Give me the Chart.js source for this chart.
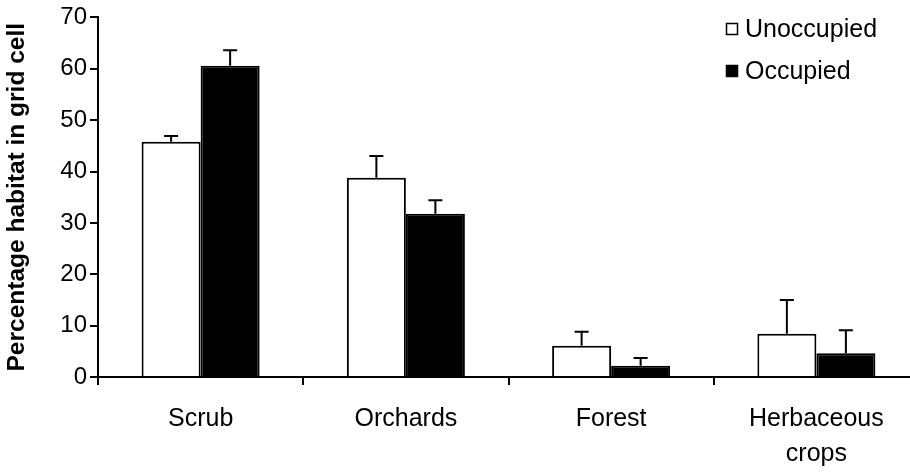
<!DOCTYPE html>
<html>
<head>
<meta charset="utf-8">
<script src="https://cdn.jsdelivr.net/npm/chart.js@4"></script>
<style>
  html, body { margin: 0; padding: 0; background: #fff; overflow: hidden; }
  #wrap { width: 925px; height: 473px; }
</style>
</head>
<body>
<div id="wrap"><canvas id="c" width="925" height="473"></canvas></div>
<script>
const categories = ['Scrub', 'Orchards', 'Forest', ['Herbaceous', 'crops']];
const seriesNames = ['Unoccupied', 'Occupied'];
const unoccupied = [45.8, 38.8, 6.1, 8.4];
const unoccupiedErr = [1.1, 4.2, 2.7, 6.6];
const occupied = [60.6, 31.8, 2.2, 4.6];
const occupiedErr = [3.0, 2.6, 1.5, 4.5];
const yTicks = [0, 10, 20, 30, 40, 50, 60, 70];
const yTitle = 'Percentage habitat in grid cell';

const FONT = "'Liberation Sans', Arial, sans-serif";
const errs = [unoccupiedErr, occupiedErr];

const errorBars = {
  id: 'errorBars',
  afterDatasetsDraw(chart) {
    const ctx = chart.ctx;
    const y = chart.scales.y;
    ctx.save();
    ctx.strokeStyle = '#000';
    ctx.lineWidth = 2;
    chart.data.datasets.forEach((ds, di) => {
      const meta = chart.getDatasetMeta(di);
      meta.data.forEach((bar, i) => {
        const top = y.getPixelForValue(ds.data[i]);
        const yE = y.getPixelForValue(ds.data[i] + errs[di][i]);
        ctx.beginPath();
        ctx.moveTo(bar.x, top);
        ctx.lineTo(bar.x, yE);
        ctx.moveTo(bar.x - 7, yE);
        ctx.lineTo(bar.x + 7, yE);
        ctx.stroke();
      });
    });
    ctx.restore();
  }
};

const customLegend = {
  id: 'customLegend',
  afterDraw(chart) {
    const ctx = chart.ctx;
    ctx.save();
    ctx.font = '25px ' + FONT;
    ctx.textBaseline = 'middle';
    ctx.textAlign = 'left';
    const rows = [29, 71];
    chart.data.datasets.forEach((ds, di) => {
      const cy = rows[di];
      ctx.fillStyle = ds.backgroundColor;
      ctx.fillRect(726, cy - 6, 12, 12);
      ctx.strokeStyle = '#000';
      ctx.lineWidth = 1.5;
      ctx.strokeRect(726.5, cy - 5.5, 11, 11);
      ctx.fillStyle = '#000';
      ctx.fillText(ds.label, 745, cy + 1);
    });
    ctx.restore();
  }
};

new Chart(document.getElementById('c'), {
  type: 'bar',
  data: {
    labels: categories,
    datasets: [
      { label: seriesNames[0], data: unoccupied, backgroundColor: '#ffffff', borderColor: '#000000', borderWidth: 2 },
      { label: seriesNames[1], data: occupied, backgroundColor: '#000000', borderColor: '#000000', borderWidth: 2 }
    ]
  },
  options: {
    responsive: false,
    animation: false,
    devicePixelRatio: 1,
    layout: { padding: { top: 17, right: 6, left: 0, bottom: 0 } },
    datasets: { bar: { categoryPercentage: 0.575, barPercentage: 1.0 } },
    plugins: { legend: { display: false }, tooltip: { enabled: false } },
    scales: {
      x: {
        type: 'category',
        offset: true,
        grid: { display: true, offset: true, drawOnChartArea: false, drawTicks: true, tickLength: 8, color: '#000', lineWidth: 2 },
        border: { display: true, color: '#000', width: 2 },
        ticks: { color: '#000', font: { family: FONT, size: 25, lineHeight: 1.4 }, padding: 17, maxRotation: 0, autoSkip: false },
        afterFit(s) { s.height = 96; }
      },
      y: {
        min: 0, max: 70,
        afterBuildTicks(s) { s.ticks = yTicks.map(v => ({ value: v })); },
        grid: { display: true, drawOnChartArea: false, drawTicks: true, tickLength: 8, color: '#000', lineWidth: 2 },
        border: { display: true, color: '#000', width: 2 },
        ticks: { color: '#000', font: { family: FONT, size: 24 }, padding: 3 },
        title: { display: true, text: yTitle, color: '#000', font: { family: FONT, size: 24.5, weight: 'bold' }, padding: { top: 3, bottom: 0 } },
        afterFit(s) { s.width = 98; }
      }
    }
  },
  plugins: [errorBars, customLegend]
});
</script>
</body>
</html>
